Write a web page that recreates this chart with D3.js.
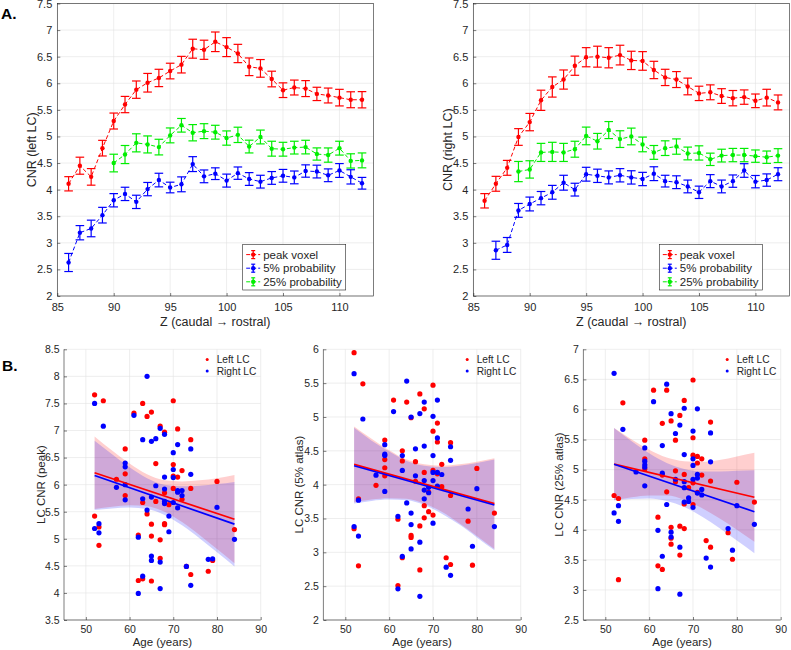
<!DOCTYPE html>
<html><head><meta charset="utf-8">
<script src="https://cdn.jsdelivr.net/npm/d3@7"></script>
<style>body{margin:0;background:#fff}svg{display:block}</style>
</head><body><svg id="c" width="791" height="650"></svg>
<script>
// ---------------- DATA ----------------
const zPos = [86,87,88,89,90,91,92,93,94,95,96,97,98,99,100,101,102,103,104,105,106,107,108,109,110,111,112];
const zTicks = [85,90,95,100,105,110];
const cnrTicks = [2,2.5,3,3.5,4,4.5,5,5.5,6,6.5,7,7.5];

const leftPeak = [4.11,4.45,4.24,4.78,5.29,5.60,5.88,6.01,6.10,6.23,6.35,6.65,6.63,6.78,6.68,6.56,6.31,6.28,6.08,5.87,5.92,5.90,5.80,5.77,5.73,5.69,5.69];
const leftPeakErr = [0.134,0.16,0.156,0.147,0.15,0.153,0.163,0.175,0.163,0.147,0.156,0.178,0.18,0.184,0.178,0.172,0.166,0.166,0.147,0.138,0.14,0.15,0.125,0.14,0.156,0.15,0.153];
const left5 = [2.63,3.19,3.27,3.52,3.80,3.92,3.77,4.01,4.18,4.04,4.10,4.48,4.25,4.30,4.17,4.31,4.20,4.15,4.22,4.26,4.23,4.35,4.34,4.27,4.36,4.24,4.12];
const left5Err = [0.17,0.134,0.156,0.147,0.125,0.125,0.125,0.125,0.128,0.1,0.14,0.14,0.12,0.11,0.122,0.116,0.12,0.12,0.12,0.12,0.12,0.116,0.12,0.12,0.13,0.134,0.11];
const left25 = [null,null,null,null,4.50,4.66,4.88,4.85,4.80,5.02,5.21,5.07,5.10,5.08,4.97,5.03,4.81,4.99,4.77,4.76,4.79,4.80,4.67,4.65,4.78,4.54,4.55];
const left25Err = [null,null,null,null,0.166,0.17,0.17,0.16,0.147,0.14,0.128,0.153,0.14,0.13,0.134,0.144,0.12,0.13,0.14,0.13,0.12,0.128,0.115,0.134,0.13,0.134,0.14];

const rightPeak = [3.79,4.11,4.41,4.99,5.27,5.68,5.93,6.07,6.33,6.49,6.50,6.48,6.53,6.43,6.42,6.25,6.11,6.07,5.94,5.81,5.83,5.76,5.72,5.74,5.67,5.73,5.64];
const rightPeakErr = [0.135,0.14,0.14,0.157,0.163,0.19,0.19,0.18,0.18,0.18,0.197,0.19,0.185,0.172,0.175,0.163,0.153,0.15,0.157,0.135,0.14,0.138,0.144,0.135,0.128,0.157,0.14];
const right5 = [null,2.86,2.96,3.61,3.73,3.84,3.95,4.13,4.00,4.29,4.26,4.23,4.27,4.23,4.20,4.30,4.16,4.14,4.06,3.95,4.16,4.06,4.16,4.36,4.15,4.18,4.29];
const right5Err = [null,0.17,0.14,0.13,0.13,0.125,0.13,0.14,0.12,0.13,0.125,0.122,0.125,0.125,0.125,0.13,0.11,0.12,0.12,0.116,0.122,0.12,0.116,0.128,0.116,0.116,0.122];
const right25 = [null,null,null,4.34,4.38,4.70,4.71,4.70,4.76,5.01,4.91,5.12,4.95,5.00,4.85,4.70,4.78,4.81,4.68,4.69,4.57,4.64,4.65,4.65,4.63,4.61,4.64];
const right25Err = [null,null,null,0.19,0.163,0.17,0.18,0.17,0.15,0.166,0.147,0.16,0.157,0.157,0.138,0.13,0.138,0.144,0.12,0.134,0.116,0.12,0.125,0.125,0.116,0.116,0.13];

const legendNames = ["peak voxel","5% probability","25% probability"];

// Panel B: [age, CNR]
const ageTicks = [50,60,70,80,90];
const peakLeft = [[52,7.66],[52,5.42],[53,5.22],[53,4.88],[54,7.55],[57,6.10],[59,6.66],[59,6.20],[59,5.80],[61,7.32],[62,5.07],[62,4.23],[63,7.50],[63,5.67],[63,4.26],[64,7.26],[64,5.46],[65,7.34],[65,5.27],[65,5.05],[65,4.22],[66,6.39],[66,5.69],[67,7.08],[67,4.98],[67,4.64],[68,6.97],[68,5.85],[68,5.28],[68,5.26],[69,5.63],[70,7.55],[70,6.37],[70,6.16],[70,5.93],[71,7.03],[71,6.14],[72,6.26],[72,5.73],[73,4.49],[74,6.83],[74,5.93],[74,4.34],[78,4.40],[79,4.60],[80,6.06],[84,5.17]];
const peakRight = [[52,7.50],[52,5.19],[53,5.28],[53,5.11],[54,7.08],[57,5.95],[59,6.40],[59,6.33],[59,6.00],[59,5.72],[61,7.28],[62,5.03],[62,3.99],[63,6.83],[63,5.74],[63,4.31],[64,8.00],[64,5.53],[65,6.80],[65,5.77],[65,4.68],[65,4.60],[66,6.85],[66,5.98],[67,7.04],[67,4.57],[67,4.08],[68,6.93],[68,6.14],[68,5.92],[68,5.69],[68,5.65],[69,5.42],[69,5.13],[70,6.59],[70,6.28],[70,6.13],[70,5.67],[71,6.74],[71,5.89],[71,5.86],[71,5.57],[72,5.89],[72,5.80],[73,4.49],[74,6.66],[74,6.19],[74,4.14],[78,4.62],[79,4.63],[80,5.58],[84,4.99]];
const p5Left = [[52,5.95],[52,3.35],[53,3.79],[53,2.80],[54,5.49],[57,3.99],[59,4.66],[59,4.37],[59,4.25],[59,4.13],[61,5.25],[62,3.49],[62,2.51],[63,4.50],[63,4.35],[63,2.92],[64,5.22],[65,4.99],[65,3.25],[65,3.22],[66,4.34],[66,4.05],[67,5.34],[67,3.39],[67,2.74],[68,5.12],[68,4.18],[68,3.69],[68,3.51],[69,3.89],[69,3.60],[70,5.47],[70,4.79],[70,4.21],[70,3.55],[71,4.91],[71,4.63],[71,4.16],[72,4.30],[72,3.97],[73,2.92],[74,4.62],[74,3.84],[74,2.82],[78,3.46],[79,2.81],[80,4.24],[84,3.58]];
const p5Right = [[52,5.64],[52,3.38],[53,3.77],[53,3.24],[54,4.97],[57,4.14],[59,4.59],[59,4.45],[59,4.43],[59,3.90],[61,5.08],[62,3.53],[62,2.46],[63,4.43],[63,4.21],[63,2.94],[64,5.53],[64,3.73],[65,5.00],[65,3.58],[65,3.41],[65,3.05],[66,4.53],[66,4.13],[67,5.05],[67,3.15],[67,2.35],[68,5.22],[68,4.57],[68,4.06],[68,3.92],[68,3.79],[69,3.96],[69,3.88],[70,5.01],[70,4.43],[70,4.18],[70,4.06],[70,3.43],[71,5.25],[71,4.69],[71,4.18],[71,3.98],[72,4.15],[73,2.78],[74,4.56],[74,4.36],[74,2.66],[78,3.64],[79,3.09],[80,3.94],[84,3.38]];
const p25Left = [[52,4.57],[53,4.52],[53,3.17],[54,6.11],[59,5.49],[59,5.18],[59,5.01],[61,6.32],[62,4.21],[62,3.40],[63,5.77],[63,4.91],[63,3.34],[64,6.32],[64,4.63],[65,5.81],[65,4.04],[65,3.86],[65,3.76],[66,5.49],[66,4.98],[66,4.80],[67,5.90],[67,4.06],[67,3.58],[68,6.15],[68,4.92],[68,4.43],[68,4.02],[69,4.70],[70,6.49],[70,5.53],[70,5.24],[70,4.78],[70,4.42],[71,5.22],[71,5.11],[71,4.62],[72,5.18],[72,4.91],[73,3.82],[74,5.79],[74,4.81],[74,3.71],[78,3.95],[79,3.51],[80,4.79],[84,4.46]];
const p25Right = [[52,6.60],[52,4.28],[53,4.40],[53,4.14],[54,5.67],[57,4.96],[59,5.36],[59,5.14],[59,5.08],[59,5.04],[59,4.73],[61,6.13],[62,3.99],[62,3.02],[63,5.40],[63,4.94],[63,3.56],[64,6.42],[64,4.42],[65,5.93],[65,3.96],[65,3.88],[66,5.60],[66,4.84],[67,5.74],[67,3.71],[67,2.93],[68,6.02],[68,5.25],[68,4.80],[68,4.70],[68,4.46],[69,4.53],[69,4.47],[70,5.64],[70,5.18],[70,5.07],[70,4.84],[70,4.37],[71,6.01],[71,4.92],[71,4.86],[71,4.61],[72,4.67],[72,4.58],[73,3.53],[74,5.61],[74,5.13],[74,3.38],[78,4.02],[79,3.66],[80,4.40],[84,4.09]];

const fitAges = [52,84];
const bandAges = [52,56,60,64,68,72,76,80,84];
const peakFitLeft = [6.22,5.36], peakFitRight = [6.17,5.27];
const peakBandLeftHi = [6.89,6.63,6.39,6.19,6.08,6.06,6.08,6.12,6.18];
const peakBandLeftLo = [5.55,5.59,5.62,5.60,5.50,5.31,5.07,4.81,4.55];
const peakBandRightHi = [6.81,6.56,6.32,6.12,6.00,5.97,5.98,6.01,6.05];
const peakBandRightLo = [5.53,5.56,5.58,5.55,5.44,5.25,5.01,4.75,4.49];
const p5FitLeft = [4.30,3.72], p5FitRight = [4.28,3.70];
const p5BandLeftHi = [4.86,4.68,4.51,4.37,4.30,4.28,4.30,4.34,4.39];
const p5BandLeftLo = [3.74,3.78,3.80,3.79,3.72,3.60,3.43,3.24,3.05];
const p5BandRightHi = [4.84,4.65,4.49,4.35,4.28,4.26,4.28,4.32,4.37];
const p5BandRightLo = [3.72,3.76,3.78,3.77,3.70,3.57,3.41,3.22,3.03];
const p25FitLeft = [5.09,4.54], p25FitRight = [5.09,4.30];
const p25BandLeftHi = [5.69,5.50,5.33,5.20,5.14,5.13,5.16,5.22,5.28];
const p25BandLeftLo = [4.49,4.54,4.57,4.57,4.50,4.36,4.19,4.00,3.80];
const p25BandRightHi = [5.69,5.47,5.27,5.11,5.01,4.97,4.97,4.98,4.99];
const p25BandRightLo = [4.49,4.51,4.52,4.48,4.38,4.22,4.03,3.82,3.61];

const peakTicks = [3.5,4,4.5,5,5.5,6,6.5,7,7.5,8,8.5];
const p5Ticks = [2,2.5,3,3.5,4,4.5,5,5.5,6];
const p25Ticks = [2.5,3,3.5,4,4.5,5,5.5,6,6.5,7];

// ---------------- DRAW ----------------
const FONT = '"Liberation Sans", Arial, Helvetica, sans-serif';
const AX = "#262626", GRID = "#e3e3e3";
const RED = "#ff0000", BLUE = "#0000ff", GREEN = "#00ee00";
const svg = d3.select("#c").attr("font-family", FONT);
const fmt = d3.format("~g");

function styleAxis(a, fs) {
  a.attr("font-family", FONT).attr("font-size", fs);
  a.select(".domain").remove();
  a.selectAll(".tick line").attr("stroke", AX).attr("stroke-width", 0.6);
  a.selectAll(".tick text").attr("fill", AX);
}

function topPanel(cfg) {
  const g = svg.append("g");
  const x = d3.scaleLinear().domain([85,113]).range([cfg.x0, cfg.x1]);
  const y = d3.scaleLinear().domain([2,7.5]).range([cfg.y1, cfg.y0]);
  g.append("g").selectAll("line").data(zTicks).join("line")
    .attr("x1", d=>x(d)).attr("x2", d=>x(d)).attr("y1", cfg.y0).attr("y2", cfg.y1)
    .attr("stroke", GRID).attr("stroke-width", 0.6);
  g.append("g").selectAll("line").data(cnrTicks).join("line")
    .attr("y1", d=>y(d)).attr("y2", d=>y(d)).attr("x1", cfg.x0).attr("x2", cfg.x1)
    .attr("stroke", GRID).attr("stroke-width", 0.6);
  g.append("g").attr("transform", `translate(0,${cfg.y1})`)
    .call(d3.axisBottom(x).tickValues(zTicks).tickSizeInner(-3).tickSizeOuter(0).tickPadding(7).tickFormat(fmt))
    .call(a=>styleAxis(a, 11));
  g.append("g").attr("transform", `translate(${cfg.x0},0)`)
    .call(d3.axisLeft(y).tickValues(cnrTicks).tickSizeInner(-3).tickSizeOuter(0).tickPadding(5).tickFormat(fmt))
    .call(a=>styleAxis(a, 11));
  g.append("rect").attr("x", cfg.x0).attr("y", cfg.y0).attr("width", cfg.x1-cfg.x0).attr("height", cfg.y1-cfg.y0)
    .attr("fill", "none").attr("stroke", AX).attr("stroke-width", 0.6);

  cfg.series.forEach(s => {
    const pts = zPos.map((z,i)=>({z, v:s.vals[i], e:s.errs[i]})).filter(d=>d.v!=null);
    const sg = g.append("g");
    sg.append("path").datum(pts)
      .attr("d", d3.line().x(d=>x(d.z)).y(d=>y(d.v)))
      .attr("fill","none").attr("stroke", s.color).attr("stroke-width", 1).attr("stroke-dasharray","4,2.5");
    const eb = sg.selectAll("g.eb").data(pts).join("g").attr("stroke", s.color).attr("stroke-width", 1.2);
    eb.append("line").attr("x1", d=>x(d.z)).attr("x2", d=>x(d.z)).attr("y1", d=>y(d.v-d.e)).attr("y2", d=>y(d.v+d.e));
    eb.append("line").attr("x1", d=>x(d.z)-4.3).attr("x2", d=>x(d.z)+4.3).attr("y1", d=>y(d.v-d.e)).attr("y2", d=>y(d.v-d.e));
    eb.append("line").attr("x1", d=>x(d.z)-4.3).attr("x2", d=>x(d.z)+4.3).attr("y1", d=>y(d.v+d.e)).attr("y2", d=>y(d.v+d.e));
    sg.selectAll("circle").data(pts).join("circle")
      .attr("cx", d=>x(d.z)).attr("cy", d=>y(d.v)).attr("r", 2.2).attr("fill", s.color);
  });

  // legend
  const lx = cfg.lx, ly = 244.3;
  g.append("rect").attr("x", lx).attr("y", ly).attr("width", 103).attr("height", 45.7)
    .attr("fill","#fff").attr("stroke", AX).attr("stroke-width", 0.6);
  cfg.series.forEach((s,i) => {
    const ry = ly + 10.3 + i*13.6;
    const lg = g.append("g").attr("stroke", s.color);
    lg.append("line").attr("x1", lx+3.5).attr("x2", lx+17.5).attr("y1", ry).attr("y2", ry)
      .attr("stroke-width",1).attr("stroke-dasharray","4,2");
    lg.append("line").attr("x1", lx+10.5).attr("x2", lx+10.5).attr("y1", ry-4).attr("y2", ry+4).attr("stroke-width",1.2);
    lg.append("line").attr("x1", lx+8.5).attr("x2", lx+12.5).attr("y1", ry-4).attr("y2", ry-4).attr("stroke-width",1.2);
    lg.append("line").attr("x1", lx+8.5).attr("x2", lx+12.5).attr("y1", ry+4).attr("y2", ry+4).attr("stroke-width",1.2);
    g.append("circle").attr("cx", lx+10.5).attr("cy", ry).attr("r", 2.2).attr("fill", s.color);
    g.append("text").attr("x", lx+20.5).attr("y", ry+4).attr("font-size", 11.5).attr("fill", AX).text(legendNames[i]);
  });

  g.append("text").attr("x", (cfg.x0+cfg.x1)/2).attr("y", 325.5).attr("text-anchor","middle")
    .attr("font-size", 12.5).attr("fill", AX).text("Z (caudal \u2192 rostral)");
  g.append("text").attr("transform", `translate(${cfg.ylx},${(cfg.y0+cfg.y1)/2}) rotate(-90)`)
    .attr("text-anchor","middle").attr("font-size", 12.5).attr("fill", AX).text(cfg.ylab);
}

function bottomPanel(cfg) {
  const g = svg.append("g");
  const x = d3.scaleLinear().domain([45,90]).range([cfg.x0, cfg.x1]);
  const y = d3.scaleLinear().domain(cfg.ydom).range([620, 349.3]);
  g.append("g").selectAll("line").data(ageTicks).join("line")
    .attr("x1", d=>x(d)).attr("x2", d=>x(d)).attr("y1", 349.3).attr("y2", 620)
    .attr("stroke", GRID).attr("stroke-width", 0.6);
  g.append("g").selectAll("line").data(cfg.ticks).join("line")
    .attr("y1", d=>y(d)).attr("y2", d=>y(d)).attr("x1", cfg.x0).attr("x2", cfg.x1)
    .attr("stroke", GRID).attr("stroke-width", 0.6);

  // confidence bands
  const area = (hi, lo) => d3.area().curve(d3.curveMonotoneX)
    .x((d,i)=>x(bandAges[i])).y0((d,i)=>y(lo[i])).y1((d,i)=>y(hi[i]));
  g.append("path").attr("d", area(cfg.lHi, cfg.lLo)(bandAges)).attr("fill", RED).attr("fill-opacity", 0.19);
  g.append("path").attr("d", area(cfg.rHi, cfg.rLo)(bandAges)).attr("fill", BLUE).attr("fill-opacity", 0.19);

  g.append("g").selectAll("circle").data(cfg.left).join("circle")
    .attr("cx", d=>x(d[0])).attr("cy", d=>y(d[1])).attr("r", 2.6).attr("fill", RED);
  g.append("g").selectAll("circle").data(cfg.right).join("circle")
    .attr("cx", d=>x(d[0])).attr("cy", d=>y(d[1])).attr("r", 2.6).attr("fill", BLUE);

  const fl = d3.line().x((d,i)=>x(fitAges[i])).y(d=>y(d));
  g.append("path").attr("d", fl(cfg.lFit)).attr("stroke", RED).attr("stroke-width", 1.7).attr("fill","none");
  g.append("path").attr("d", fl(cfg.rFit)).attr("stroke", BLUE).attr("stroke-width", 1.7).attr("fill","none");

  g.append("g").attr("transform", "translate(0,620)")
    .call(d3.axisBottom(x).tickValues(ageTicks).tickSizeInner(-3).tickSizeOuter(0).tickPadding(6).tickFormat(fmt))
    .call(a=>styleAxis(a, 10.5));
  g.append("g").attr("transform", `translate(${cfg.x0},0)`)
    .call(d3.axisLeft(y).tickValues(cfg.ticks).tickSizeInner(-3).tickSizeOuter(0).tickPadding(4.5).tickFormat(fmt))
    .call(a=>styleAxis(a, 10.5));
  g.append("line").attr("x1", cfg.x0).attr("x2", cfg.x1).attr("y1", 620).attr("y2", 620).attr("stroke", AX).attr("stroke-width", 0.6);
  g.append("line").attr("x1", cfg.x0).attr("x2", cfg.x0).attr("y1", 349.3).attr("y2", 620).attr("stroke", AX).attr("stroke-width", 0.6);

  // legend
  [["Left LC", RED, 359.5], ["Right LC", BLUE, 371]].forEach(([t,c,yy]) => {
    g.append("circle").attr("cx", cfg.x1-53.5).attr("cy", yy).attr("r", 1.5).attr("fill", c);
    g.append("text").attr("x", cfg.x1-44).attr("y", yy+3.6).attr("font-size", 10.2).attr("fill", AX).text(t);
  });

  g.append("text").attr("x", (cfg.x0+cfg.x1)/2).attr("y", 645.5).attr("text-anchor","middle")
    .attr("font-size", 11.5).attr("fill", AX).text("Age (years)");
  g.append("text").attr("transform", `translate(${cfg.ylx},484.6) rotate(-90)`)
    .attr("text-anchor","middle").attr("font-size", 11.5).attr("fill", AX).text(cfg.ylab);
}

topPanel({x0:57.3, x1:373.3, y0:3.5, y1:296, lx:242.7, ylx:36, ylab:"CNR (left LC)",
  series:[{vals:leftPeak, errs:leftPeakErr, color:RED},{vals:left5, errs:left5Err, color:BLUE},{vals:left25, errs:left25Err, color:GREEN}]});
topPanel({x0:473.3, x1:789.3, y0:3.5, y1:296, lx:659.3, ylx:452, ylab:"CNR (right LC)",
  series:[{vals:rightPeak, errs:rightPeakErr, color:RED},{vals:right5, errs:right5Err, color:BLUE},{vals:right25, errs:right25Err, color:GREEN}]});

bottomPanel({x0:64, x1:260.7, ydom:[3.5,8.5], ticks:peakTicks, ylx:45, ylab:"LC CNR (peak)",
  left:peakLeft, right:peakRight, lFit:peakFitLeft, rFit:peakFitRight,
  lHi:peakBandLeftHi, lLo:peakBandLeftLo, rHi:peakBandRightHi, rLo:peakBandRightLo});
bottomPanel({x0:323.4, x1:520.7, ydom:[2,6], ticks:p5Ticks, ylx:303, ylab:"LC CNR (5% atlas)",
  left:p5Left, right:p5Right, lFit:p5FitLeft, rFit:p5FitRight,
  lHi:p5BandLeftHi, lLo:p5BandLeftLo, rHi:p5BandRightHi, rLo:p5BandRightLo});
bottomPanel({x0:583.4, x1:780.7, ydom:[2.5,7], ticks:p25Ticks, ylx:563, ylab:"LC CNR (25% atlas)",
  left:p25Left, right:p25Right, lFit:p25FitLeft, rFit:p25FitRight,
  lHi:p25BandLeftHi, lLo:p25BandLeftLo, rHi:p25BandRightHi, rLo:p25BandRightLo});

svg.append("text").attr("x", 1).attr("y", 18.5).attr("font-size", 15.5).attr("font-weight","bold").attr("fill","#000").text("A.");
svg.append("text").attr("x", 2).attr("y", 371).attr("font-size", 15.5).attr("font-weight","bold").attr("fill","#000").text("B.");
</script></body></html>
